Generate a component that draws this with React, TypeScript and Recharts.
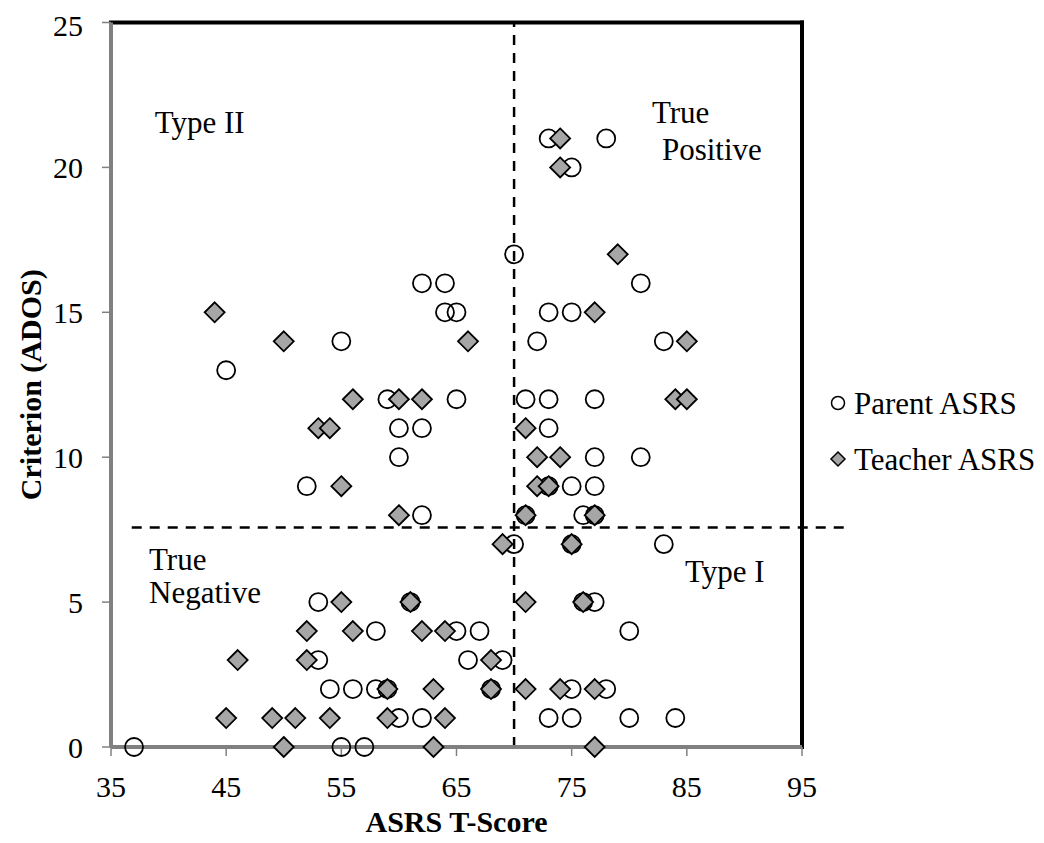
import React from 'react';
import { ScatterChart, Scatter, XAxis, YAxis, ReferenceLine, ReferenceDot, Legend } from 'recharts';

// Parent ratings (circles)
const parentScores = [
  73, 78, 75, 70, 62, 64, 81, 64, 65, 73, 75, 55, 72, 83, 45,
  59, 65, 71, 73, 77, 60, 62, 73, 60, 77, 81, 52, 73, 75, 77,
  62, 71, 76, 77, 70, 75, 83, 53, 61, 76, 77, 58, 65, 67, 80,
  53, 66, 69, 54, 56, 58, 59, 68, 75, 78, 60, 62, 73, 75, 80, 84,
  37, 55, 57,
];
const parentAdos = [
  21, 21, 20, 17, 16, 16, 16, 15, 15, 15, 15, 14, 14, 14, 13,
  12, 12, 12, 12, 12, 11, 11, 11, 10, 10, 10, 9, 9, 9, 9,
  8, 8, 8, 8, 7, 7, 7, 5, 5, 5, 5, 4, 4, 4, 4,
  3, 3, 3, 2, 2, 2, 2, 2, 2, 2, 1, 1, 1, 1, 1, 1,
  0, 0, 0,
];

// Teacher ratings (diamonds)
const teacherScores = [
  74, 74, 79, 44, 77, 50, 66, 85, 56, 60, 62, 84, 85, 53, 54, 71,
  72, 74, 55, 72, 73, 60, 71, 77, 69, 75, 55, 61, 71, 76,
  52, 56, 62, 64, 46, 52, 68, 59, 63, 68, 71, 74, 77,
  45, 49, 51, 54, 59, 64, 50, 63, 77,
];
const teacherAdos = [
  21, 20, 17, 15, 15, 14, 14, 14, 12, 12, 12, 12, 12, 11, 11, 11,
  10, 10, 9, 9, 9, 8, 8, 8, 7, 7, 5, 5, 5, 5,
  4, 4, 4, 4, 3, 3, 3, 2, 2, 2, 2, 2, 2,
  1, 1, 1, 1, 1, 1, 0, 0, 0,
];

const xTicks = [35, 45, 55, 65, 75, 85, 95];
const yTicks = [0, 5, 10, 15, 20, 25];
const seriesNames = ['Parent ASRS', 'Teacher ASRS'];
const cutScore = 70;
const cutAdos = 7.57;

// quadrant captions: text, x start, baseline y (data units)
const regionLabels = [
  { text: 'Type II', x: 38.8, y: 21.2 },
  { text: 'True', x: 81.97, y: 21.53 },
  { text: 'Positive', x: 82.84, y: 20.26 },
  { text: 'True', x: 38.3, y: 6.11 },
  { text: 'Negative', x: 38.3, y: 4.97 },
  { text: 'Type I', x: 84.84, y: 5.69 },
];

const parentData = parentScores.map((x, i) => ({ x, y: parentAdos[i] }));
const teacherData = teacherScores.map((x, i) => ({ x, y: teacherAdos[i] }));

const FONT = '"Liberation Serif", "Times New Roman", serif';
const GRAY = '#a6a6a6';

const Circle = (p: any) => (
  <circle cx={p.cx} cy={p.cy} r={9} fill="none" stroke="#000" strokeWidth={1.8} />
);

const Diamond = (p: any) => {
  const { cx, cy } = p;
  const s = 10;
  return (
    <polygon
      points={`${cx},${cy - s} ${cx + s},${cy} ${cx},${cy + s} ${cx - s},${cy}`}
      fill={GRAY}
      stroke="#000"
      strokeWidth={1.8}
    />
  );
};

const LegendBox = () => (
  <svg width={226} height={112} style={{ display: 'block' }}>
    <circle cx={18} cy={33} r={6.5} fill="none" stroke="#000" strokeWidth={1.5} />
    <text x={34} y={44} fontFamily={FONT} fontSize={31} fill="#000">{seriesNames[0]}</text>
    <polygon points="18,82 25,89 18,96 11,89" fill={GRAY} stroke="#000" strokeWidth={1.5} />
    <text x={34} y={100} fontFamily={FONT} fontSize={31} fill="#000">{seriesNames[1]}</text>
  </svg>
);

const regionText = (text: string) => (props: any) => {
  const { x, y } = props.viewBox;
  return (
    <text x={x} y={y} fontFamily={FONT} fontSize={31} fill="#000">
      {text}
    </text>
  );
};

const tickStyle = { fontFamily: FONT, fontSize: 30, fill: '#000' };

export default function App() {
  return (
    <ScatterChart
      width={1036}
      height={835}
      margin={{ top: 14.5, right: 242, bottom: 0, left: 0 }}
    >
      <XAxis
        type="number"
        dataKey="x"
        domain={[35, 95]}
        ticks={xTicks}
        height={96}
        tickSize={9}
        tickMargin={20}
        tick={tickStyle}
        stroke="#808080"
        axisLine={{ stroke: '#808080', strokeWidth: 4 }}
        tickLine={{ stroke: '#808080', strokeWidth: 1.5 }}
        label={(props: any) => {
          const vb = props.viewBox;
          return (
            <text
              x={vb.x + vb.width / 2}
              y={vb.y + 85}
              textAnchor="middle"
              fontFamily={FONT}
              fontSize={30}
              fontWeight="bold"
              fill="#000"
            >
              ASRS T-Score
            </text>
          );
        }}
      />
      <YAxis
        type="number"
        dataKey="y"
        domain={[0, 25]}
        ticks={yTicks}
        width={103}
        tickSize={9}
        tickMargin={19}
        tick={tickStyle}
        stroke="#808080"
        axisLine={{ stroke: '#808080', strokeWidth: 4 }}
        tickLine={{ stroke: '#808080', strokeWidth: 1.5 }}
        label={(props: any) => {
          const vb = props.viewBox;
          const cx = vb.x + 33;
          const cy = vb.y + vb.height / 2;
          return (
            <text
              x={cx}
              y={cy}
              transform={`rotate(-90 ${cx} ${cy})`}
              textAnchor="middle"
              fontFamily={FONT}
              fontSize={30}
              fontWeight="bold"
              fill="#000"
            >
              Criterion (ADOS)
            </text>
          );
        }}
      />
      <ReferenceLine x={cutScore} stroke="#000" strokeWidth={2.5} strokeDasharray="10 8" />
      <ReferenceLine
        segment={[{ x: 36.8, y: cutAdos }, { x: 98.7, y: cutAdos }]}
        ifOverflow="visible"
        stroke="#000"
        strokeWidth={2.5}
        strokeDasharray="10 8"
      />
      <Scatter
        name={seriesNames[0]}
        data={parentData}
        shape={Circle}
        isAnimationActive={false}
      />
      <Scatter
        name={seriesNames[1]}
        data={teacherData}
        shape={Diamond}
        isAnimationActive={false}
      />
      <ReferenceLine y={25} stroke="#000" strokeWidth={4} strokeLinecap="square" />
      <ReferenceLine x={95} stroke="#000" strokeWidth={4} strokeLinecap="square" />
      <ReferenceLine x={35} stroke="#000" strokeWidth={1.5} />
      <ReferenceLine y={0} stroke="#000" strokeWidth={1.5} />
      {regionLabels.map((r, i) => (
        <ReferenceDot
          key={i}
          x={r.x}
          y={r.y}
          r={0}
          fill="none"
          stroke="none"
          label={regionText(r.text)}
        />
      ))}
      <Legend
        layout="vertical"
        align="center"
        verticalAlign="middle"
        wrapperStyle={{ left: 812, top: 362, width: 226 }}
        content={() => <LegendBox />}
      />
    </ScatterChart>
  );
}
